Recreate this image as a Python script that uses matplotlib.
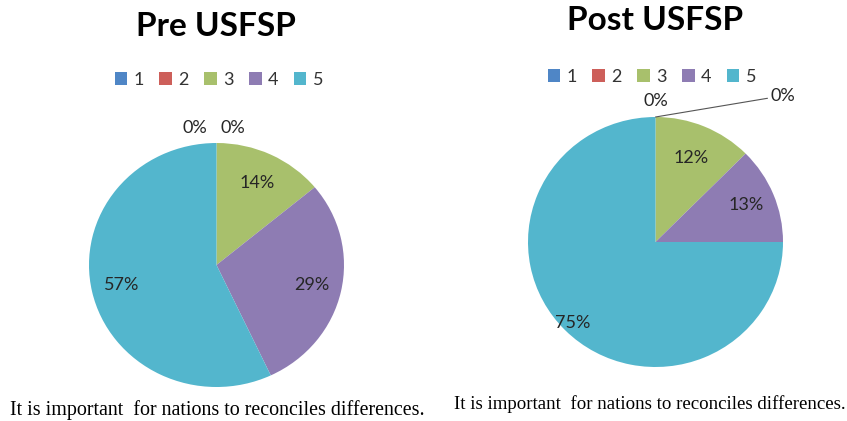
import numpy as np
import matplotlib.pyplot as plt
from matplotlib.patches import Patch

W, H = 847, 421

categories = ["1", "2", "3", "4", "5"]
pre_values = [0, 0, 14, 29, 57]
post_values = [0, 0, 12.5, 12.5, 75]
pre_labels = ["0%", "0%", "14%", "29%", "57%"]
post_labels = ["0%", "0%", "12%", "13%", "75%"]
colors = ["#4F86C6", "#CD5F5A", "#A8C06C", "#8E7CB3", "#53B6CD"]
caption = "It is important  for nations to reconciles differences."

LBL = dict(fontsize=13, color="#262626", family="Lato")


def fig_rect(cx, cy, rx, ry):
    # pixel centre / radii -> figure fraction rect, with 10% margin round the pie
    return [(cx - 1.1 * rx) / W, 1 - (cy + 1.1 * ry) / H, 2.2 * rx / W, 2.2 * ry / H]


def draw_pie(ax, values, labels, dists):
    wedges, _ = ax.pie(values, colors=colors, startangle=90, counterclock=False,
                       radius=1.0, wedgeprops=dict(linewidth=0))
    ax.set_xlim(-1.1, 1.1)
    ax.set_ylim(-1.1, 1.1)
    ax.set_aspect("auto")
    ax.axis("off")
    for i, w in enumerate(wedges):
        if values[i] == 0:
            continue
        ang = np.deg2rad((w.theta1 + w.theta2) / 2)
        d = dists[i]
        ax.text(d * np.cos(ang), d * np.sin(ang), labels[i], ha="center", va="center", **LBL)
    return wedges


plt.rcParams["font.family"] = "Lato"
fig = plt.figure(figsize=(W / 100, H / 100), dpi=100)

# left pie
axl = fig.add_axes(fig_rect(216.5, 265, 127.5, 122))
draw_pie(axl, pre_values, pre_labels, [0, 0, 0.74, 0.77, 0.76])
axl.text(-0.17, 1.12, pre_labels[0], ha="center", va="center", **LBL)
axl.text(0.13, 1.12, pre_labels[1], ha="center", va="center", **LBL)

# right pie
axr = fig.add_axes(fig_rect(655.5, 242, 127.5, 125))
draw_pie(axr, post_values, post_labels, [0, 0, 0.73, 0.77, 0.92])
axr.text(0.0, 1.13, post_labels[0], ha="center", va="center", **LBL)
axr.annotate(post_labels[1], xy=(0.0, 1.0), xytext=(0.9, 1.17), ha="left", va="center",
             arrowprops=dict(arrowstyle="-", color="#555555", lw=0.8, shrinkA=0, shrinkB=0),
             **LBL)

# titles
fig.text(216 / W, 1 - 26 / H, "Pre USFSP", ha="center", va="center", fontsize=24,
         fontweight="bold", color="black")
fig.text(655 / W, 1 - 21 / H, "Post USFSP", ha="center", va="center", fontsize=24,
         fontweight="bold", color="black")

# legends
handles = [Patch(facecolor=c, edgecolor="none") for c in colors]
for cx, cy in [(219, 80), (652, 77)]:
    fig.legend(handles, categories, loc="center", bbox_to_anchor=(cx / W, 1 - cy / H),
               ncol=5, frameon=False, fontsize=13, handlelength=0.7, handleheight=0.7,
               handletextpad=0.35, columnspacing=0.85, labelcolor="#333333")

# captions
fig.text(217 / W, 1 - 410 / H, caption, ha="center", va="center", fontsize=14.4,
         family="Liberation Serif", color="black")
fig.text(650 / W, 1 - 404 / H, caption, ha="center", va="center", fontsize=13.6,
         family="Liberation Serif", color="black")

fig.savefig("out.png", dpi=100)
